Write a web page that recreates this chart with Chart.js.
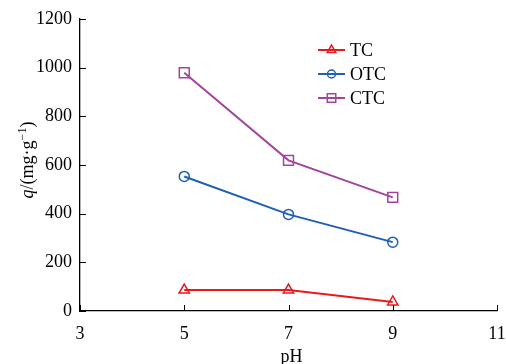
<!DOCTYPE html>
<html>
<head>
<meta charset="utf-8">
<script src="https://cdn.jsdelivr.net/npm/chart.js@4.4.1/dist/chart.umd.min.js"></script>
<style>
  html, body { margin: 0; padding: 0; background: #fff; }
</style>
</head>
<body>
<canvas id="chart" width="506" height="364"></canvas>
<script>
// pH values and adsorption capacity q (mg/g)
const phValues = [5, 7, 9];
const tcValues = [86, 86, 37];
const otcValues = [553, 397, 283];
const ctcValues = [979, 619, 467];
const seriesNames = ['TC', 'OTC', 'CTC'];
const xTicks = [3, 5, 7, 9, 11];
const yTicks = [0, 200, 400, 600, 800, 1000, 1200];

const FONT = "'Liberation Serif', 'Times New Roman', serif";

const toPoints = vals => vals.map((v, i) => ({ x: phValues[i], y: v }));

// Inward tick marks
const innerTicks = {
  id: 'innerTicks',
  afterDraw(chart) {
    const { ctx, chartArea, scales } = chart;
    ctx.save();
    ctx.strokeStyle = '#000';
    ctx.lineWidth = 1;
    scales.x.ticks.forEach(t => {
      const px = Math.round(scales.x.getPixelForValue(t.value)) + 0.5;
      ctx.beginPath();
      ctx.moveTo(px, chartArea.bottom);
      ctx.lineTo(px, chartArea.bottom - 6);
      ctx.stroke();
    });
    scales.y.ticks.forEach(t => {
      const py = Math.round(scales.y.getPixelForValue(t.value)) + 0.5;
      ctx.beginPath();
      ctx.moveTo(chartArea.left, py);
      ctx.lineTo(chartArea.left + 6, py);
      ctx.stroke();
    });
    ctx.restore();
  }
};

// Axis titles
const axisTitles = {
  id: 'axisTitles',
  afterDraw(chart) {
    const { ctx, chartArea } = chart;
    ctx.save();
    ctx.fillStyle = '#000';
    ctx.textBaseline = 'alphabetic';
    ctx.textAlign = 'center';
    ctx.font = '18px ' + FONT;
    ctx.fillText('pH', (chartArea.left + chartArea.right) / 2 + 3, 362);

    // y title: q/(mg·g^-1), rotated
    const parts = [
      { t: 'q', f: 'italic 18px ' + FONT, dy: 0 },
      { t: '/(mg·g', f: '18px ' + FONT, dy: 0 },
      { t: '−1', f: '12px ' + FONT, dy: -7 },
      { t: ')', f: '18px ' + FONT, dy: 0 }
    ];
    let total = 0;
    parts.forEach(p => { ctx.font = p.f; p.w = ctx.measureText(p.t).width; total += p.w; });
    ctx.translate(33, (chartArea.top + chartArea.bottom) / 2 - 5);
    ctx.rotate(-Math.PI / 2);
    ctx.textAlign = 'left';
    let x = -total / 2;
    parts.forEach(p => {
      ctx.font = p.f;
      ctx.fillText(p.t, x, p.dy);
      x += p.w;
    });
    ctx.restore();
  }
};

// Legend: line with marker in the middle
const lineLegend = {
  id: 'lineLegend',
  afterDraw(chart) {
    const { ctx } = chart;
    ctx.save();
    chart.data.datasets.forEach((ds, i) => {
      const y = 50 + i * 24;
      ctx.strokeStyle = ds.borderColor;
      ctx.lineWidth = 2;
      ctx.beginPath();
      ctx.moveTo(318, y);
      ctx.lineTo(345, y);
      ctx.stroke();
      ctx.fillStyle = 'rgba(0,0,0,0)';
      ctx.lineWidth = 1.5;
      Chart.helpers.drawPoint(ctx, {
        pointStyle: ds.pointStyle,
        radius: ds.pointRadius - 1,
        borderWidth: 1.5
      }, 331.5, y);
      ctx.fillStyle = '#000';
      ctx.font = '18px ' + FONT;
      ctx.textBaseline = 'middle';
      ctx.textAlign = 'left';
      ctx.fillText(ds.label, 350, y + 1);
    });
    ctx.restore();
  }
};

new Chart(document.getElementById('chart'), {
  type: 'line',
  data: {
    datasets: [
      { label: seriesNames[0], data: toPoints(tcValues), borderColor: '#e8191f', pointStyle: 'triangle', pointRadius: 6 },
      { label: seriesNames[1], data: toPoints(otcValues), borderColor: '#1f5fb4', pointStyle: 'circle', pointRadius: 5 },
      { label: seriesNames[2], data: toPoints(ctcValues), borderColor: '#a3449d', pointStyle: 'rect', pointRadius: 7 }
    ].map(d => Object.assign(d, {
      borderWidth: 2,
      pointBorderColor: d.borderColor,
      pointBackgroundColor: 'rgba(0,0,0,0)',
      pointBorderWidth: 1.5,
      tension: 0
    }))
  },
  options: {
    responsive: false,
    animation: false,
    devicePixelRatio: 1,
    layout: { padding: { top: 19, right: 0, left: 0, bottom: 0 } },
    plugins: { legend: { display: false }, tooltip: { enabled: false } },
    scales: {
      x: {
        type: 'linear',
        min: 3, max: 11,
        afterBuildTicks: s => { s.ticks = xTicks.map(v => ({ value: v })); },
        afterFit: s => { s.height = 53; s.paddingRight = 9; s.paddingLeft = 0; },
        grid: { drawOnChartArea: false, drawTicks: false },
        border: { color: '#000', width: 1.3 },
        ticks: { color: '#000', padding: 12, maxRotation: 0, callback: v => String(v), font: { family: FONT, size: 18 } }
      },
      y: {
        min: 0, max: 1200,
        afterBuildTicks: s => { s.ticks = yTicks.map(v => ({ value: v })); },
        afterFit: s => { s.width = 80; },
        grid: { drawOnChartArea: false, drawTicks: false },
        border: { color: '#000', width: 1.3 },
        ticks: { color: '#000', padding: 8, callback: v => String(v), font: { family: FONT, size: 18 } }
      }
    }
  },
  plugins: [innerTicks, axisTitles, lineLegend]
});
</script>
</body>
</html>
